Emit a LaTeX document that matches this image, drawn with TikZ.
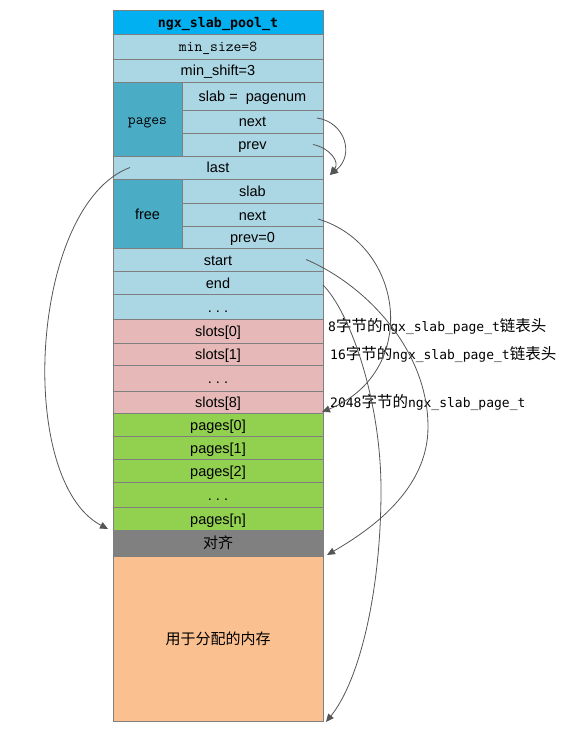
\documentclass[tikz,border=0pt]{standalone}
\usepackage{fontspec}
\setmainfont{Liberation Sans}
\newfontfamily\cjk{Noto Sans CJK SC}
\newfontfamily\lblmono{DejaVu Sans Mono}
\newfontfamily\titlemono{DejaVu Sans Mono}
\usetikzlibrary{arrows.meta,calc}
\definecolor{cTitle}{HTML}{00B0F0}
\definecolor{cLight}{HTML}{ABD6E4}
\definecolor{cDark}{HTML}{4BACC6}
\definecolor{cPink}{HTML}{E6B9B8}
\definecolor{cGreen}{HTML}{92D050}
\definecolor{cGray}{HTML}{808080}
\definecolor{cOrange}{HTML}{FAC090}
\definecolor{cBorder}{HTML}{7F7F7F}
\definecolor{cArrow}{HTML}{555555}
\newcommand\cellbox[7]{%
  \pgfmathsetmacro\cx{(#3+#5)/2}\pgfmathsetmacro\cy{(#4+#6)/2}%
  \pgfmathsetmacro\cw{#5-#3}\pgfmathsetmacro\ch{#6-#4}%
  \node[cell,#1,minimum width=\cw pt,minimum height=\ch pt] (#2) at (\cx,\cy) {#7};}
\begin{document}
\begin{tikzpicture}[x=1pt,y=-1pt,
  cell/.style={draw=cBorder,line width=0.75pt,inner sep=0pt,outer sep=0pt,
    text height=13pt,text depth=2pt,
    font=\fontsize{14.5}{16}\selectfont,text=black},
  light/.style={fill=cLight},
  dark/.style={fill=cDark},
  pink/.style={fill=cPink},
  green/.style={fill=cGreen},
  grayc/.style={fill=cGray},
  orange/.style={fill=cOrange},
  ttf/.style={font=\fontsize{15.2}{17}\selectfont\ttfamily},
  cjkf/.style={font=\fontsize{15}{17}\selectfont\cjk},
  lbl/.style={anchor=west,inner sep=0pt,font=\fontsize{13}{15}\selectfont\lblmono},
  link/.style={draw=cArrow,line width=0.8pt,-{Triangle[length=8pt,width=7pt]}}]
\useasboundingbox (0,0) rectangle (587,730);
% main column
\cellbox{fill=cTitle,font=\fontsize{13.3}{15}\selectfont\titlemono\bfseries}{title}{113}{10}{323}{34}{ngx\_slab\_pool\_t}
\cellbox{light,ttf}{minsize}{113}{34}{323}{59}{min\_size=8}
\cellbox{light}{minshift}{113}{59}{323}{82}{min\_shift=3}
\cellbox{dark,ttf}{pages}{113}{82}{182}{156}{pages}
\cellbox{light}{pslab}{182}{82}{323}{110}{slab =\ \ pagenum}
\cellbox{light}{pnext}{182}{110}{323}{133}{next}
\cellbox{light}{pprev}{182}{133}{323}{156}{prev}
\cellbox{light}{last}{113}{156}{323}{179}{last}
\cellbox{dark}{free}{113}{179}{182}{248}{free}
\cellbox{light}{fslab}{182}{179}{323}{203}{slab}
\cellbox{light}{fnext}{182}{203}{323}{226}{next}
\cellbox{light}{fprev}{182}{226}{323}{248}{prev=0}
\cellbox{light}{start}{113}{248}{323}{271}{start}
\cellbox{light}{end}{113}{271}{323}{294}{end}
\cellbox{light}{dotsa}{113}{294}{323}{319}{.\ .\ .}
\cellbox{pink}{slotsa}{113}{319}{323}{343}{slots[0]}
\cellbox{pink}{slotsb}{113}{343}{323}{365}{slots[1]}
\cellbox{pink}{dotsb}{113}{365}{323}{391}{.\ .\ .}
\cellbox{pink}{slotsh}{113}{391}{323}{413}{slots[8]}
\cellbox{green}{pga}{113}{413}{323}{436}{pages[0]}
\cellbox{green}{pgb}{113}{436}{323}{459}{pages[1]}
\cellbox{green}{pgc}{113}{459}{323}{482}{pages[2]}
\cellbox{green}{dotsc}{113}{482}{323}{507}{.\ .\ .}
\cellbox{green}{pgn}{113}{507}{323}{530}{pages[n]}
\cellbox{grayc,cjkf}{align}{113}{530}{323}{556}{对齐}
\cellbox{orange,cjkf}{mem}{113}{556}{323}{721}{用于分配的内存}
% labels
\node[lbl] (laba) at (328,326) {8{\cjk\fontsize{15.5}{17}\selectfont 字节的}ngx\_slab\_page\_t{\cjk\fontsize{15.5}{17}\selectfont 链表头}};
\node[lbl] (labb) at (330,354) {16{\cjk\fontsize{15.5}{17}\selectfont 字节的}ngx\_slab\_page\_t{\cjk\fontsize{15.5}{17}\selectfont 链表头}};
\node[lbl] (labh) at (330,402) {2048{\cjk\fontsize{15.5}{17}\selectfont 字节的}ngx\_slab\_page\_t};
% connectors
\draw[link] ([xshift=-6pt,yshift=3.5pt]pnext.east) .. controls (345,122) and (355,155) .. ([xshift=7pt,yshift=4pt]last.south east);
\draw[link] ([xshift=-10pt]pprev.east) .. controls (330,148) and (340,162) .. ([xshift=7pt,yshift=4pt]last.south east);
\draw[link] ([xshift=17pt]last.west) .. controls (30,205) and (15,480) .. ([xshift=-5pt,yshift=1pt]pgn.south west);
\draw[link] ([xshift=-5pt,yshift=-4.5pt]fnext.east) .. controls (405,245) and (420,372) .. ([xshift=-1pt,yshift=1pt]slotsh.south east);
\draw[link] ([xshift=-17pt]start.east) .. controls (366,285) and (428,350) .. (428,427) .. controls (428,490) and (370,530) .. ([xshift=4pt,yshift=1pt]align.south east);
\draw[link] ([yshift=-2.5pt]end.east) .. controls (350,312) and (381,400) .. (381,490) .. controls (381,590) and (360,680) .. ([xshift=3pt,yshift=-1pt]mem.south east);
\end{tikzpicture}
\end{document}
